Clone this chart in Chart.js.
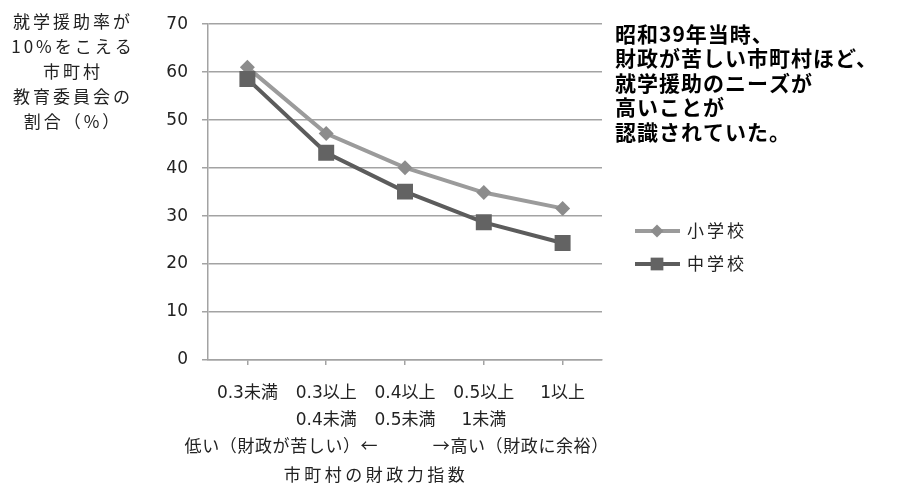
<!DOCTYPE html>
<html>
<head>
<meta charset="utf-8">
<script src="https://cdn.jsdelivr.net/npm/chart.js@4"></script>
<style>
  html, body { margin: 0; padding: 0; background: #fff; }
  #wrap { width: 918px; height: 483px; }
</style>
</head>
<body>
<div id="wrap"><canvas id="myChart" width="918" height="483"></canvas></div>
<script>
// 財政力指数の区分ごとの就学援助率10%超の教育委員会の割合
var categories = [
  ["0.3未満"],
  ["0.3以上", "0.4未満"],
  ["0.4以上", "0.5未満"],
  ["0.5以上", "1未満"],
  ["1以上"]
];
var seriesNames = ["小学校", "中学校"];
var elementary = [61.0, 47.2, 40.1, 34.9, 31.6];
var juniorHigh = [58.6, 43.2, 35.1, 28.7, 24.4];
var yTicks = [0, 10, 20, 30, 40, 50, 60, 70];

var yTitle = ["就学援助率が", "10%をこえる", "市町村", "教育委員会の", "割合（%）"];
var xNoteLeft = "低い（財政が苦しい）←";
var xNoteRight = "→高い（財政に余裕）";
var xTitle = "市町村の財政力指数";
var remark = ["昭和39年当時、", "財政が苦しい市町村ほど、", "就学援助のニーズが", "高いことが", "認識されていた。"];

var cjk = '"Noto Sans CJK JP", sans-serif';
var tickFont = '"DejaVu Sans", "Noto Sans CJK JP", sans-serif';
var gridColor = "#a3a3a3";
var textColor = "#222";

// 軸外の文字と凡例
var notes = {
  id: "notes",
  afterDraw: function (chart) {
    var ctx = chart.ctx;
    var area = chart.chartArea;
    var x = chart.scales.x;
    ctx.save();
    ctx.textBaseline = "middle";

    // 縦軸タイトル
    ctx.fillStyle = textColor;
    ctx.font = "17px " + cjk;
    ctx.letterSpacing = "3px";
    ctx.textAlign = "center";
    for (var i = 0; i < yTitle.length; i++) {
      ctx.fillText(yTitle[i], 73, 22 + i * 25);
    }

    // 横軸の補足と軸タイトル
    ctx.letterSpacing = "0.6px";
    ctx.textAlign = "right";
    ctx.fillText(xNoteLeft, x.getPixelForValue(1) + 52, 446);
    ctx.textAlign = "left";
    ctx.fillText(xNoteRight, x.getPixelForValue(3) - 51, 446);
    ctx.letterSpacing = "3.5px";
    ctx.textAlign = "center";
    ctx.fillText(xTitle, area.left + 168, 475);

    // 右側のコメント
    ctx.fillStyle = "#000";
    ctx.font = "bold 21px " + cjk;
    ctx.letterSpacing = "1px";
    ctx.textAlign = "left";
    for (var j = 0; j < remark.length; j++) {
      ctx.fillText(remark[j], area.right + 13, 34 + j * 24.5);
    }

    // 凡例
    ctx.font = "17px " + cjk;
    ctx.letterSpacing = "3px";
    var items = [chart.data.datasets[0], chart.data.datasets[1]];
    for (var k = 0; k < items.length; k++) {
      var ds = items[k];
      var ly = 231 + k * 33;
      var lx = area.right + 33;
      ctx.strokeStyle = ds.borderColor;
      ctx.lineWidth = 4;
      ctx.beginPath();
      ctx.moveTo(lx, ly);
      ctx.lineTo(lx + 45, ly);
      ctx.stroke();
      ctx.fillStyle = ds.pointBackgroundColor;
      Chart.helpers.drawPoint(ctx, { pointStyle: ds.pointStyle, radius: k === 0 ? 6.5 : 9, borderWidth: 0 }, lx + 22, ly);
      ctx.fillStyle = textColor;
      ctx.fillText(ds.label, lx + 52, ly);
    }
    ctx.restore();
  }
};

new Chart("myChart", {
  type: "line",
  data: {
    labels: categories,
    datasets: [{
      label: seriesNames[0],
      data: elementary,
      borderColor: "#9b9b9b",
      borderWidth: 4,
      pointStyle: "rectRot",
      pointRadius: 7.5,
      pointBackgroundColor: "#8c8c8c",
      pointBorderColor: "#8c8c8c",
      pointBorderWidth: 0,
      tension: 0,
      order: 1
    }, {
      label: seriesNames[1],
      data: juniorHigh,
      borderColor: "#5c5c5c",
      borderWidth: 4,
      pointStyle: "rect",
      pointRadius: 11.3,
      pointBackgroundColor: "#636363",
      pointBorderColor: "#636363",
      pointBorderWidth: 0,
      tension: 0,
      order: 0
    }]
  },
  options: {
    responsive: false,
    animation: false,
    events: [],
    layout: { autoPadding: false, padding: { left: 0, right: 316, top: 18.5, bottom: 0 } },
    plugins: {
      legend: { display: false },
      tooltip: { enabled: false }
    },
    scales: {
      x: {
        offset: true,
        grid: { drawOnChartArea: false, drawTicks: true, tickLength: 5, color: gridColor, lineWidth: 1.5 },
        border: { color: gridColor, width: 1.5 },
        ticks: {
          color: textColor,
          font: { family: tickFont, size: 17, lineHeight: 1.6 },
          padding: 15,
          maxRotation: 0,
          autoSkip: false
        },
        afterFit: function (scale) { scale.height = 123; }
      },
      y: {
        min: yTicks[0],
        max: yTicks[yTicks.length - 1],
        afterBuildTicks: function (scale) {
          scale.ticks = yTicks.map(function (v) { return { value: v }; });
        },
        grid: { color: gridColor, lineWidth: 1.5, tickLength: 6 },
        border: { color: gridColor, width: 1.5 },
        ticks: {
          color: textColor,
          font: { family: tickFont, size: 17 },
          padding: 14
        },
        afterFit: function (scale) { scale.width = 208; }
      }
    }
  },
  plugins: [notes]
});
</script>
</body>
</html>
